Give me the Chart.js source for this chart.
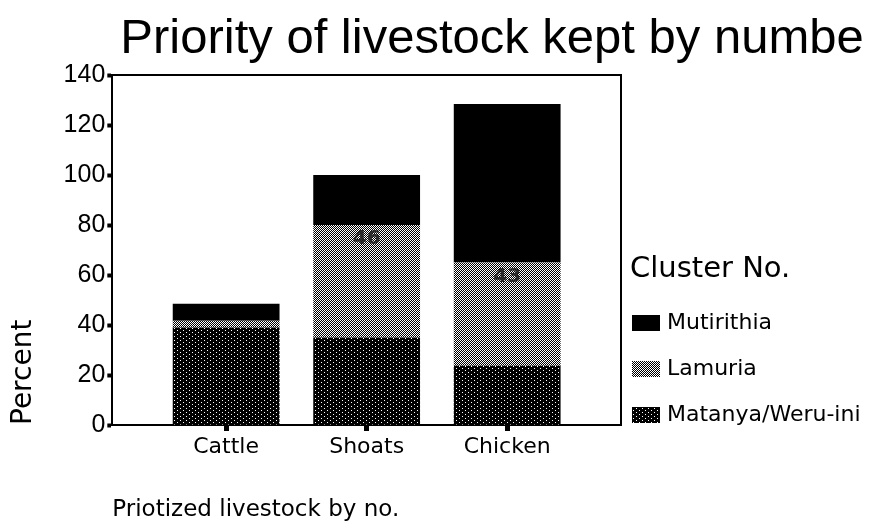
<!DOCTYPE html>
<html>
<head>
<meta charset="utf-8">
<title>Priority of livestock kept by number</title>
<script src="https://cdn.jsdelivr.net/npm/chart.js@4.4.1/dist/chart.umd.min.js"></script>
<style>
  html, body { margin: 0; padding: 0; background: #fff; }
</style>
</head>
<body>
<canvas id="chart" width="885" height="528"></canvas>
<script>
  // data (percent, stacked)
  const livestock = ['Cattle', 'Shoats', 'Chicken'];
  const matanya = [39, 35, 23.7];
  const lamuria = [2.7, 45, 41.3];
  const mutirithia = [6.8, 20, 63.4];
  const lamuriaLabels = ['', '46', '43'];
  const chartTitle = 'Priority of livestock kept by numbe';
  const legendTitle = 'Cluster No.';

  // dotted fills like the scanned hatch patterns
  function makePattern(w, h, dots) {
    const c = document.createElement('canvas');
    c.width = w; c.height = h;
    const g = c.getContext('2d');
    g.fillStyle = '#000';
    g.fillRect(0, 0, w, h);
    g.fillStyle = '#fff';
    dots.forEach(([x, y]) => g.fillRect(x, y, 1, 1));
    return g.createPattern(c, 'repeat');
  }
  const ctx = document.getElementById('chart').getContext('2d');
  const matanyaFill = makePattern(6, 4, [[0, 0], [3, 2]]);
  const lamuriaFill = makePattern(2, 2, [[0, 0], [1, 1]]);

  // top and right edge of the plot box
  const frame = {
    id: 'frame',
    afterDatasetsDraw(chart) {
      const {ctx, chartArea: a} = chart;
      ctx.save();
      ctx.strokeStyle = '#000';
      ctx.lineWidth = 2;
      ctx.beginPath();
      ctx.moveTo(a.left, a.top);
      ctx.lineTo(a.right, a.top);
      ctx.lineTo(a.right, a.bottom);
      ctx.stroke();
      ctx.restore();
    }
  };

  // counts printed inside the Lamuria segments
  const segmentLabels = {
    id: 'segmentLabels',
    afterDatasetsDraw(chart) {
      const meta = chart.getDatasetMeta(1);
      const c = chart.ctx;
      c.save();
      c.font = 'bold 20px "DejaVu Sans"';
      c.fillStyle = '#2a2a2a';
      c.textAlign = 'center';
      c.textBaseline = 'top';
      meta.data.forEach((bar, i) => {
        if (lamuriaLabels[i]) c.fillText(lamuriaLabels[i], bar.x, bar.y + 4);
      });
      c.restore();
    }
  };

  // big heading, left aligned just inside the plot's left edge
  const heading = {
    id: 'heading',
    afterDraw(chart) {
      const c = chart.ctx;
      c.save();
      c.font = '49px "Liberation Sans", Arial';
      c.fillStyle = '#000';
      c.textBaseline = 'middle';
      c.fillText(chartTitle, chart.chartArea.left + 8, 39);
      c.restore();
    }
  };

  // legend to the right of the plot, bottom item level with the axis
  const clusterLegend = {
    id: 'clusterLegend',
    afterDraw(chart) {
      const c = chart.ctx;
      const a = chart.chartArea;
      const items = chart.data.datasets.slice().reverse();
      const x = a.right + 11;
      const step = 46;
      const firstY = a.bottom - 10 - (items.length - 1) * step;
      c.save();
      c.textBaseline = 'middle';
      c.fillStyle = '#000';
      c.font = '29px "DejaVu Sans"';
      c.fillText(legendTitle, x - 2, firstY - 54);
      c.font = '22px "DejaVu Sans"';
      items.forEach((ds, i) => {
        const y = firstY + i * step;
        c.fillStyle = ds.backgroundColor;
        c.fillRect(x, y - 8, 28, 16);
        c.fillStyle = '#000';
        c.fillText(ds.label, x + 35, y);
      });
      c.restore();
    }
  };

  Chart.defaults.font.family = '"DejaVu Sans", sans-serif';
  Chart.defaults.color = '#000';

  new Chart(ctx, {
    type: 'bar',
    data: {
      datasets: [{
        label: 'Matanya/Weru-ini',
        data: matanya.map((v, i) => ({x: i + 1, y: v})),
        backgroundColor: matanyaFill,
        borderWidth: 0,
        stack: 'cluster'
      },
      {
        label: 'Lamuria',
        data: lamuria.map((v, i) => ({x: i + 1, y: v})),
        backgroundColor: lamuriaFill,
        borderWidth: 0,
        stack: 'cluster'
      },
      {
        label: 'Mutirithia',
        data: mutirithia.map((v, i) => ({x: i + 1, y: v})),
        backgroundColor: '#000',
        borderWidth: 0,
        stack: 'cluster'
      }
      ]
    },
    options: {
      responsive: false,
      animation: false,
      categoryPercentage: 1,
      barPercentage: 0.76,
      layout: {padding: {left: 0, right: 264, top: 75, bottom: 0}},
      scales: {
        x: {
          type: 'linear',
          offset: false,
          min: 0.19,
          max: 3.81,
          afterBuildTicks: (axis) => {
            axis.ticks = livestock.map((_, i) => ({value: i + 1}));
          },
          ticks: {
            callback: (v) => livestock[v - 1],
            font: {size: 22},
            padding: 3,
            autoSkip: false,
            maxRotation: 0
          },
          grid: {offset: false, drawOnChartArea: false, tickLength: 6, tickWidth: 5, tickColor: '#000'},
          border: {color: '#000', width: 2},
          title: {
            display: true,
            text: 'Priotized livestock by no.',
            align: 'start',
            font: {size: 23},
            padding: {top: 33, bottom: 4}
          }
        },
        y: {
          stacked: true,
          min: 0,
          max: 140,
          ticks: {stepSize: 20, font: {family: '"Liberation Sans", Arial', size: 25}, padding: 2},
          grid: {drawOnChartArea: false, tickLength: 5, tickWidth: 4, tickColor: '#000'},
          border: {color: '#000', width: 2},
          title: {
            display: true,
            text: 'Percent',
            align: 'start',
            font: {size: 28},
            padding: {top: 7, bottom: 21}
          }
        }
      },
      plugins: {
        tooltip: {enabled: false},
        title: {display: false},
        legend: {display: false}
      }
    },
    plugins: [frame, segmentLabels, heading, clusterLegend]
  });
</script>
</body>
</html>
